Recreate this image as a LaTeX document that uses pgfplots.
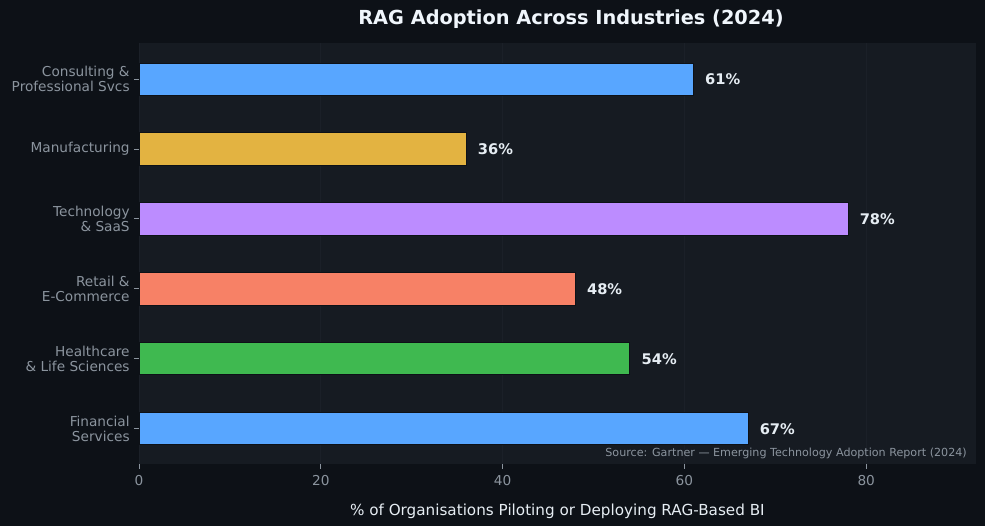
\documentclass[border=0pt]{standalone}
\usepackage{fontspec}
\setmainfont{DejaVu Sans}
\usepackage{pgfplots}
\pgfplotsset{compat=1.18}
\definecolor{figbg}{HTML}{0D1117}
\definecolor{plotbg}{HTML}{161B22}
\definecolor{gridc}{HTML}{1B2028}
\definecolor{tickc}{HTML}{8B949E}
\definecolor{titlec}{HTML}{F0F6FC}
\definecolor{labc}{HTML}{E6EDF3}
\definecolor{cblue}{HTML}{58A6FF}
\definecolor{cyellow}{HTML}{E3B341}
\definecolor{cpurple}{HTML}{BC8CFF}
\definecolor{csalmon}{HTML}{F78166}
\definecolor{cgreen}{HTML}{3FB950}
\begin{document}
\begin{tikzpicture}
\useasboundingbox (0,0) rectangle (738.75pt,394.5pt);
\fill[figbg] (0,0) rectangle (738.75pt,394.5pt);
\begin{axis}[
  at={(104.25pt,46.5pt)}, anchor=south west,
  scale only axis, width=627.5pt, height=316pt,
  xbar, bar width=0.46, bar shift=0pt,
  xmin=0, xmax=92.04, ymin=-0.505, ymax=5.52,
  axis background/.style={fill=plotbg},
  axis line style={draw=none},
  xtick={0,20,40,60,80},
  ytick={0,1,2,3,4,5},
  yticklabels={{Financial\\Services},{Healthcare\\\& Life Sciences},{Retail \&\\E-Commerce},{Technology\\\& SaaS},{Manufacturing},{Consulting \&\\Professional Svcs}},
  yticklabel style={align=right, font=\fontsize{10.25}{11.5}\selectfont, text=tickc},
  xticklabel style={font=\fontsize{10.25}{12}\selectfont, text=tickc, yshift=-1.5pt},
  /pgf/number format/assume math mode=true,
  tick align=outside, xtick pos=bottom, ytick pos=left,
  major tick length=3.5pt,
  tick style={color=tickc, line width=0.6pt},
  xmajorgrids, grid style={color=gridc, line width=0.6pt},
  xlabel={\% of Organisations Piloting or Deploying RAG-Based BI},
  xlabel style={font=\fontsize{11.4}{13}\selectfont, text=labc, yshift=-6.5pt},
  nodes near coords={\pgfmathprintnumber[assume math mode=true]{\pgfplotspointmeta}\%},
  point meta=x,
  every node near coord/.append style={anchor=west, inner sep=0pt, xshift=8.5pt, font=\bfseries\fontsize{11}{13}\selectfont, text=labc},
]
\addplot[fill=cblue, draw=figbg, line width=0.6pt] coordinates {(67,0)};
\addplot[fill=cgreen, draw=figbg, line width=0.6pt] coordinates {(54,1)};
\addplot[fill=csalmon, draw=figbg, line width=0.6pt] coordinates {(48,2)};
\addplot[fill=cpurple, draw=figbg, line width=0.6pt] coordinates {(78,3)};
\addplot[fill=cyellow, draw=figbg, line width=0.6pt] coordinates {(36,4)};
\addplot[fill=cblue, draw=figbg, line width=0.6pt] coordinates {(61,5)};
\end{axis}
\node[font=\bfseries\fontsize{14.5}{17}\selectfont, text=titlec] at (428.25pt,380pt) {RAG Adoption Across Industries (2024)};
\node[anchor=east, inner sep=0pt, font=\fontsize{8.35}{10}\selectfont, text=tickc] at (725.25pt,54.75pt) {Source: Gartner — Emerging Technology Adoption Report (2024)};
\end{tikzpicture}
\end{document}
